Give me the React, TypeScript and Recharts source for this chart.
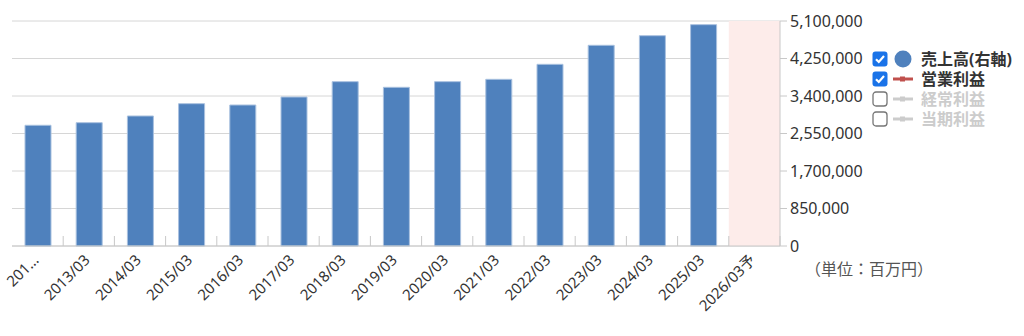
import React from 'react';
import {
  ComposedChart, Bar, XAxis, YAxis, CartesianGrid, ReferenceArea,
} from 'recharts';

const categories = [
  '2012/03', '2013/03', '2014/03', '2015/03', '2016/03', '2017/03', '2018/03',
  '2019/03', '2020/03', '2021/03', '2022/03', '2023/03', '2024/03', '2025/03', '2026/03予',
];
// 売上高 (百万円), forecast year has no bar
const sales = [
  2736000, 2795000, 2947000, 3226000, 3196000, 3377000, 3725000,
  3597000, 3725000, 3778000, 4118000, 4549000, 4767000, 5017000, null,
];
const rightTicks = [0, 850000, 1700000, 2550000, 3400000, 4250000, 5100000];
const forecastCategory = '2026/03予';
const legendItems = [
  { name: '売上高(右軸)', checked: true, marker: 'circle', color: '#4f81bd' },
  { name: '営業利益', checked: true, marker: 'line', color: '#c0504d' },
  { name: '経常利益', checked: false, marker: 'line', color: '#cccccc' },
  { name: '当期利益', checked: false, marker: 'line', color: '#cccccc' },
];
const unitLabel = '（単位：百万円）';

const data = categories.map((c, i) => ({ period: c, sales: sales[i] }));

const FONT = '"Noto Sans", "Noto Sans CJK JP", sans-serif';

function XTick(props: any) {
  const { x, y, payload, index, width } = props;
  const band = width / categories.length;
  const label = index === 0 ? payload.value.slice(0, 3) + '…' : payload.value;
  return (
    <g>
      <line x1={x + band / 2} x2={x + band / 2} y1={y} y2={y - 10} stroke="#c8c8c8" />
      <text
        transform={`translate(${x + 2},${y + 15}) rotate(-45)`}
        textAnchor="end"
        fontSize={15}
        fill="#333"
        fontFamily={FONT}
      >
        {label}
      </text>
    </g>
  );
}

function Check({ checked }: { checked: boolean }) {
  return checked ? (
    <svg width={16} height={16} style={{ display: 'block' }}>
      <rect x={0.5} y={0.5} width={15} height={15} rx={3} fill="#1a73e8" />
      <path d="M4 8.2 L6.8 11 L12 5" stroke="#fff" strokeWidth={2.2} fill="none" />
    </svg>
  ) : (
    <svg width={16} height={16} style={{ display: 'block' }}>
      <rect x={1} y={1} width={14} height={14} rx={3} fill="#fff" stroke="#767676" strokeWidth={1.3} />
    </svg>
  );
}

function LegendBox() {
  return (
    <div style={{ position: 'absolute', left: 872, top: 49, fontFamily: FONT }}>
      {legendItems.map((it) => (
        <div key={it.name} style={{ display: 'flex', alignItems: 'center', height: 20, overflow: 'visible' }}>
          <Check checked={it.checked} />
          <svg width={31} height={20} style={{ marginLeft: 2, display: 'block' }}>
            {it.marker === 'circle' ? (
              <circle cx={13} cy={10} r={8.5} fill={it.color} />
            ) : (
              <g>
                <line x1={3} x2={23} y1={10} y2={10} stroke={it.color} strokeWidth={3} />
                <rect x={10} y={7.5} width={5} height={5} fill={it.color} />
              </g>
            )}
          </svg>
          <span style={{ fontSize: 16, lineHeight: '18px', fontWeight: 700, color: it.checked ? '#333' : '#cccccc', whiteSpace: 'nowrap' }}>
            {it.name}
          </span>
        </div>
      ))}
    </div>
  );
}

export default function App() {
  return (
    <div style={{ position: 'absolute', left: 0, top: 0, width: 1024, height: 336, background: '#fff' }}>
      <ComposedChart
        width={1024}
        height={336}
        data={data}
        margin={{ top: 21, right: 164, left: 12, bottom: 0 }}
      >
        <CartesianGrid vertical={false} stroke="#d6d6d6" yAxisId="right" />
        <ReferenceArea
          x1={forecastCategory}
          x2={forecastCategory}
          yAxisId="right"
          y1={0}
          y2={5100000}
          fill="#fdecea"
          fillOpacity={1}
          stroke="none"
          ifOverflow="extendDomain"
        />
        <XAxis
          dataKey="period"
          interval={0}
          height={90}
          tickSize={0}
          tickMargin={0}
          tickLine={false}
          axisLine={{ stroke: '#c8c8c8' }}
          tick={<XTick />}
        />
        <YAxis yAxisId="left" orientation="left" width={0} domain={[0, 1]} tick={false} tickLine={false} axisLine={{ stroke: '#c8c8c8' }} />
        <YAxis
          yAxisId="right"
          orientation="right"
          width={80}
          domain={[0, 5100000]}
          ticks={rightTicks}
          interval={0}
          tickFormatter={(v: number) => v.toLocaleString('en-US')}
          tick={{ fill: '#333', fontSize: 16, fontFamily: FONT }}
          tickSize={7}
          tickMargin={3}
          tickLine={{ stroke: '#c8c8c8' }}
          axisLine={{ stroke: '#c8c8c8' }}
        />
        <Bar
          yAxisId="right"
          dataKey="sales"
          fill="#4f81bd"
          stroke="#a9c1df"
          strokeWidth={1}
          barSize={26}
          isAnimationActive={false}
        />
      </ComposedChart>
      <LegendBox />
      <div style={{ position: 'absolute', left: 805, top: 256, fontSize: 16, color: '#555', fontFamily: FONT, whiteSpace: 'nowrap' }}>
        {unitLabel}
      </div>
    </div>
  );
}
